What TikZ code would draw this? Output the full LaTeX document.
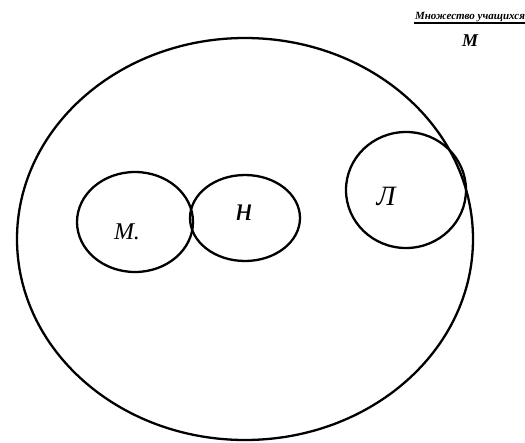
\documentclass[tikz,border=0pt]{standalone}
\usepackage{fontspec}
\setmainfont{Liberation Serif}
\usetikzlibrary{shapes.geometric}
\begin{document}
\begin{tikzpicture}[x=1pt,y=-1pt,
  setline/.style={draw=black, line width=2.3pt, ellipse, inner sep=0pt},
  lbl/.style={font=\itshape\fontsize{24}{24}\selectfont, inner sep=0pt},
  head/.style={font=\itshape\bfseries\fontsize{11}{11}\selectfont, inner sep=1pt}]
\useasboundingbox[fill=white] (0,0) rectangle (525,442);
\node[setline, minimum width=456pt, minimum height=402pt] (U) at (245,239) {};
\node[setline, minimum width=116pt, minimum height=100pt] (M) at (135,222) {};
\node[setline, minimum width=110pt, minimum height=86pt] (N) at (245,218) {};
\node[setline, minimum width=120pt, minimum height=116pt] (L) at (406,190) {};
\node[lbl] (mt) at (127,232) {М.};
\node[lbl, font=\itshape\fontsize{34}{34}\selectfont] (nt) at (244,213) {н};
\node[lbl, font=\itshape\fontsize{28}{28}\selectfont] (lt) at (386,196) {Л};
\node[head] (h) at (470,17) {Множество учащихся};
\draw[line width=1.6pt] (h.south west) -- (h.south east);
\node[head, font=\itshape\bfseries\fontsize{18}{18}\selectfont] (hl) at (470,41) {М};
\end{tikzpicture}
\end{document}
